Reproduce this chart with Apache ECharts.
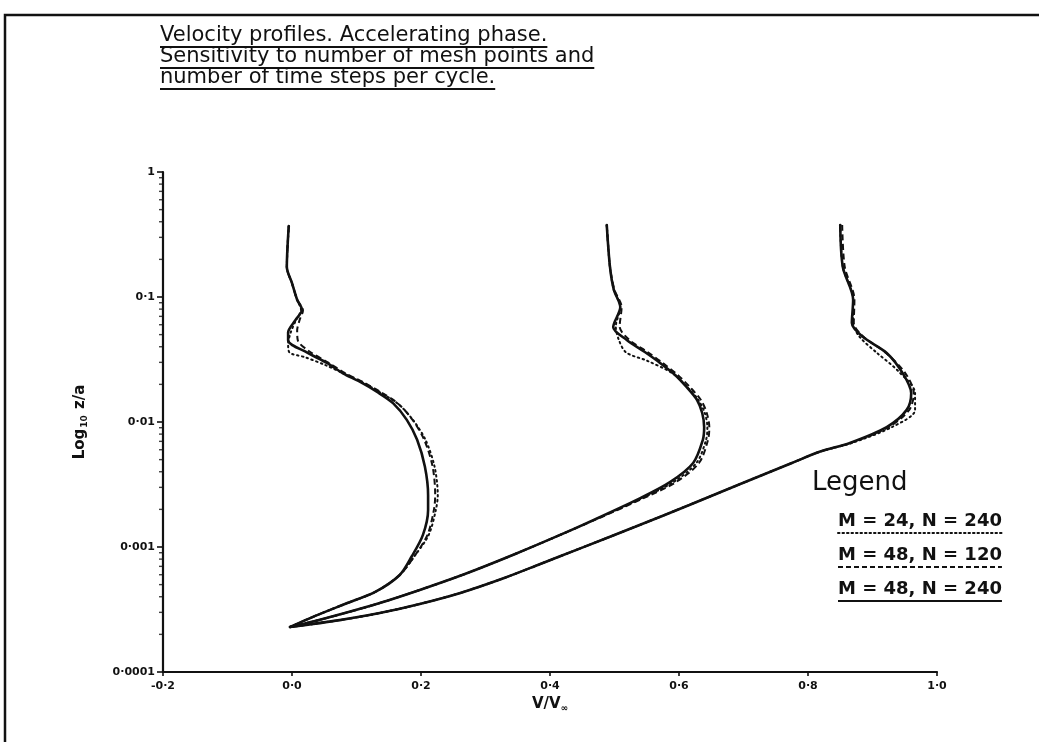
<!DOCTYPE html>
<html>
<head>
<meta charset="utf-8">
<title>Velocity profiles. Accelerating phase.</title>
<script src="https://cdn.jsdelivr.net/npm/echarts@6/dist/echarts.min.js"></script>
<style>
  html, body { margin: 0; padding: 0; background: #fff; }
  #chart { width: 1039px; height: 742px; }
</style>
</head>
<body>
<div id="chart"></div>
<script>
// ---- data: [V/V∞, z/a] ; z/a is plotted on a log10 axis ----
const titleLines = [
  'Velocity profiles. Accelerating phase.',
  'Sensitivity to number of mesh points and',
  'number of time steps per cycle.'
];
const legendNames = ['M = 24, N = 240', 'M = 48, N = 120', 'M = 48, N = 240'];

// minor tick positions on the log axis
const yMinorTicks = [
  0.0002, 0.0003, 0.0004, 0.0005, 0.0006, 0.0007, 0.0008, 0.0009,
  0.002, 0.003, 0.004, 0.005, 0.006, 0.007, 0.008, 0.009,
  0.02, 0.03, 0.04, 0.05, 0.06, 0.07, 0.08, 0.09,
  0.2, 0.3, 0.4, 0.5, 0.6, 0.7, 0.8, 0.9
];

// profile 1 (left)
const p1Dotted = [[-0.005,0.37],[-0.008,0.174],[0.0,0.129],[0.008,0.095],[0.014,0.079],[0.006,0.065],[-0.002,0.052],[-0.006,0.042],[-0.004,0.036],[0.02,0.033],[0.052,0.0285],[0.082,0.0242],[0.109,0.0208],[0.137,0.0172],[0.165,0.0139],[0.188,0.0103],[0.207,0.0072],[0.221,0.0044],[0.226,0.0026],[0.223,0.00198],[0.212,0.00125],[0.19,0.000847]];
const p1Dashed = [[-0.005,0.37],[-0.008,0.174],[0.0,0.129],[0.008,0.095],[0.017,0.078],[0.012,0.066],[0.008,0.054],[0.009,0.045],[0.026,0.037],[0.057,0.0297],[0.083,0.0245],[0.109,0.021],[0.137,0.0174],[0.164,0.0141],[0.187,0.0104],[0.205,0.0072],[0.218,0.0044],[0.222,0.0026],[0.22,0.00198],[0.21,0.00125],[0.19,0.000847]];
const p1Solid = [[-0.005,0.37],[-0.008,0.174],[0.0,0.129],[0.008,0.095],[0.0155,0.079],[0.005,0.065],[-0.006,0.052],[-0.006,0.045],[0.023,0.036],[0.054,0.0297],[0.079,0.0245],[0.105,0.021],[0.132,0.0174],[0.157,0.0141],[0.178,0.0104],[0.194,0.0072],[0.206,0.0044],[0.211,0.0026],[0.211,0.00198],[0.203,0.00125],[0.186,0.000847]];
const p1Tail = [[0.167,0.000597],[0.129,0.000437],[0.082,0.00035],[0.036,0.000281],[-0.003,0.000229]];

// profile 2 (middle)
const p2Dotted = [[0.488,0.377],[0.493,0.174],[0.499,0.114],[0.509,0.083],[0.502,0.058],[0.507,0.045],[0.518,0.036],[0.55,0.031],[0.59,0.0245],[0.613,0.019],[0.63,0.015],[0.64,0.0118],[0.644,0.0091],[0.642,0.0072],[0.627,0.0047],[0.591,0.0033],[0.543,0.00246],[0.468,0.00164]];
const p2Dashed = [[0.488,0.377],[0.493,0.174],[0.5,0.114],[0.511,0.083],[0.508,0.058],[0.523,0.0453],[0.551,0.0363],[0.575,0.0296],[0.598,0.0238],[0.617,0.019],[0.634,0.015],[0.643,0.0118],[0.647,0.0091],[0.645,0.0072],[0.631,0.0047],[0.595,0.0033],[0.545,0.00246],[0.469,0.00164]];
const p2Solid = [[0.488,0.377],[0.493,0.174],[0.499,0.114],[0.509,0.083],[0.498,0.0575],[0.519,0.0453],[0.547,0.0363],[0.571,0.0296],[0.594,0.0238],[0.612,0.019],[0.628,0.015],[0.636,0.0118],[0.639,0.0091],[0.637,0.0072],[0.622,0.0047],[0.586,0.0033],[0.54,0.00246],[0.467,0.00164]];
const p2Tail = [[0.422,0.00129],[0.346,0.000879],[0.268,0.000608],[0.198,0.000453],[0.136,0.000356],[0.082,0.000296],[0.036,0.000256],[-0.003,0.000229]];

// profile 3 (right)
const p3Dotted = [[0.85,0.377],[0.854,0.174],[0.87,0.095],[0.87,0.062],[0.88,0.048],[0.907,0.0357],[0.94,0.0255],[0.966,0.017],[0.966,0.0125],[0.93,0.0091],[0.868,0.0068],[0.819,0.0058]];
const p3Dashed = [[0.853,0.377],[0.857,0.174],[0.872,0.095],[0.871,0.062],[0.886,0.048],[0.921,0.0357],[0.951,0.0245],[0.964,0.017],[0.957,0.0125],[0.925,0.0091],[0.866,0.0068],[0.819,0.0058]];
const p3Solid = [[0.85,0.377],[0.854,0.174],[0.87,0.095],[0.868,0.062],[0.885,0.048],[0.922,0.0357],[0.947,0.0245],[0.96,0.017],[0.953,0.0125],[0.922,0.0091],[0.865,0.0068],[0.819,0.0058]];
const p3Tail = [[0.775,0.0047],[0.695,0.00319],[0.616,0.00217],[0.532,0.00145],[0.448,0.00098],[0.385,0.000731],[0.329,0.000565],[0.261,0.000429],[0.198,0.00035],[0.136,0.000296],[0.074,0.00026],[-0.003,0.000229]];

// ---- styles ----
const INK = '#111';
const FONT = '"DejaVu Sans", sans-serif';
const styles = [
  { type: [1.5, 3.5], width: 2, cap: 'round', z: 3 },  // dotted
  { type: [6, 3.5], width: 2, cap: 'butt', z: 4 },     // dashed
  { type: 'solid', width: 2.6, cap: 'round', z: 5 }    // solid
];

const profiles = [
  { parts: [p1Dotted, p1Dashed, p1Solid], tail: p1Tail },
  { parts: [p2Dotted, p2Dashed, p2Solid], tail: p2Tail },
  { parts: [p3Dotted, p3Dashed, p3Solid], tail: p3Tail }
];

const series = [];
profiles.forEach(p => {
  p.parts.forEach((part, s) => {
    series.push({
      type: 'line',
      name: legendNames[s],
      data: part.concat(p.tail),
      showSymbol: false,
      smooth: 0.3,
      silent: true,
      z: styles[s].z,
      lineStyle: { color: INK, width: styles[s].width, type: styles[s].type, cap: styles[s].cap }
    });
  });
});

// minor ticks of the log axis
series.push({
  type: 'scatter',
  data: yMinorTicks.map(v => [-0.2, v]),
  symbol: 'rect',
  symbolSize: [4, 1.4],
  symbolOffset: [-2, 0],
  itemStyle: { color: INK },
  silent: true,
  clip: false,
  z: 6
});

// ---- graphics: frame, title, legend ----
const ctx = document.createElement('canvas').getContext('2d');
function textW(t, font) { ctx.font = font; return ctx.measureText(t).width; }

const titleFont = '21px "DejaVu Sans"';
const graphics = [
  { type: 'polyline', shape: { points: [[5, 742], [5, 15], [1039, 15]] },
    style: { stroke: INK, lineWidth: 2.5, fill: null } }
];
titleLines.forEach((t, i) => {
  const y = 36 + i * 21;
  graphics.push({ type: 'text', x: 160, y: y,
    style: { text: t, font: titleFont, fill: INK, verticalAlign: 'middle' } });
  graphics.push({ type: 'line', shape: { x1: 160, y1: y + 11, x2: 160 + textW(t, titleFont), y2: y + 11 },
    style: { stroke: INK, lineWidth: 1.8 } });
});

graphics.push({ type: 'text', x: 812, y: 483,
  style: { text: 'Legend', font: '26px "DejaVu Sans"', fill: INK, verticalAlign: 'middle' } });

const legFont = 'bold 18px "DejaVu Sans"';
const legDash = [[1.5, 3], [5, 3], null];
legendNames.forEach((t, i) => {
  const y = 521 + i * 34;
  const w = textW(t, legFont);
  graphics.push({ type: 'text', x: 838, y: y,
    style: { text: t, font: legFont, fill: INK, verticalAlign: 'middle' } });
  graphics.push({ type: 'line', shape: { x1: 838, y1: y + 12, x2: 838 + w, y2: y + 12 },
    style: { stroke: INK, lineWidth: 2, lineDash: legDash[i], lineCap: i === 0 ? 'round' : 'butt' } });
});

// ---- chart ----
const chart = echarts.init(document.getElementById('chart'), null, { renderer: 'canvas' });
chart.setOption({
  animation: false,
  backgroundColor: '#fff',
  grid: { left: 163, right: 102, top: 172, bottom: 70 },
  xAxis: {
    type: 'value',
    min: -0.2, max: 1.0, interval: 0.2,
    axisLine: { onZero: false, lineStyle: { color: INK, width: 2.2 } },
    axisTick: { length: 4, lineStyle: { color: INK, width: 1.6 } },
    splitLine: { show: false },
    axisLabel: {
      color: INK, fontFamily: FONT, fontWeight: 'bold', fontSize: 11, margin: 9,
      formatter: v => (v < 0 ? '-' : '') + Math.abs(v).toFixed(1).replace('.', '·')
    },
    name: '{a|V/V}{s|∞}',
    nameLocation: 'middle',
    nameGap: 23,
    nameTextStyle: {
      rich: {
        a: { fontFamily: FONT, fontWeight: 'bold', fontSize: 15, color: INK },
        s: { fontFamily: FONT, fontWeight: 'bold', fontSize: 9, color: INK, padding: [8, 0, 0, 0] }
      }
    }
  },
  yAxis: {
    type: 'log',
    logBase: 10,
    min: 0.0001, max: 1,
    axisLine: { show: true, onZero: false, lineStyle: { color: INK, width: 2.2 } },
    axisTick: { show: true, length: 6, lineStyle: { color: INK, width: 1.6 } },
    splitLine: { show: false },
    axisLabel: {
      color: INK, fontFamily: FONT, fontWeight: 'bold', fontSize: 11, margin: 8,
      formatter: v => (v >= 0.99 ? '1' : String(+v.toPrecision(1)).replace('.', '·'))
    },
    name: '{a|Log}{s|10}{a| z/a}',
    nameLocation: 'middle',
    nameRotate: 90,
    nameGap: 74,
    nameTextStyle: {
      rich: {
        a: { fontFamily: FONT, fontWeight: 'bold', fontSize: 15, color: INK },
        s: { fontFamily: FONT, fontWeight: 'bold', fontSize: 9, color: INK, padding: [8, 1, 0, 1] }
      }
    }
  },
  graphic: graphics,
  series: series
});
</script>
</body>
</html>
